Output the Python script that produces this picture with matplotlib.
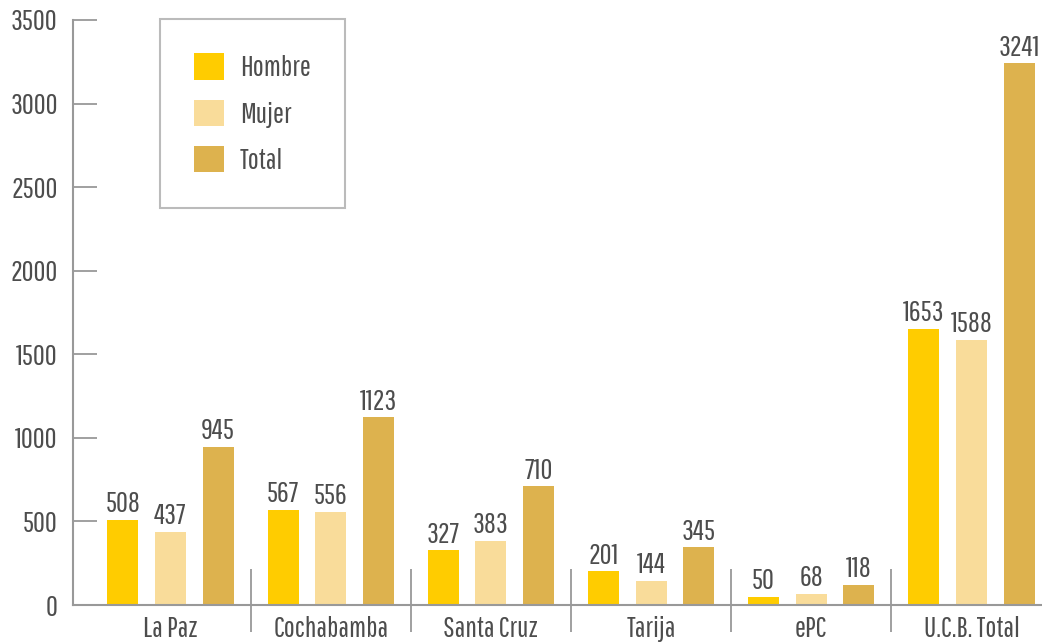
import matplotlib
matplotlib.use("Agg")
import matplotlib.pyplot as plt
from matplotlib.patches import Patch
import numpy as np

categories = ["La Paz", "Cochabamba", "Santa Cruz", "Tarija", "ePC", "U.C.B. Total"]
hombre = [508, 567, 327, 201, 50, 1653]
mujer = [437, 556, 383, 144, 68, 1588]
total = [945, 1123, 710, 345, 118, 3241]
series_names = ["Hombre", "Mujer", "Total"]
yticks = [0, 500, 1000, 1500, 2000, 2500, 3000, 3500]

colors = ["#FFCC00", "#F9DC9A", "#DDB24E"]
text_color = "#4d4d4d"
axis_color = "#999999"

plt.rcParams["font.family"] = ["Pathway Gothic One", "DejaVu Sans"]
FS = 21

W, H = 1042, 644
fig = plt.figure(figsize=(W / 100, H / 100), dpi=100)
left_px, right_px, top_px, bottom_px = 73, 1042, 20, 605
ax = fig.add_axes([left_px / W, 1 - bottom_px / H, (right_px - left_px) / W, (bottom_px - top_px) / H])

x = np.arange(len(categories))
offset = 0.297
width = 0.194
for i, (vals, c, name) in enumerate(zip([hombre, mujer, total], colors, series_names)):
    xs = x + (i - 1) * offset
    ax.bar(xs, vals, width=width, color=c, label=name, linewidth=0)
    for xi, v in zip(xs, vals):
        ax.annotate(str(v), (xi, v), xytext=(0, 2), textcoords="offset points",
                    ha="center", va="bottom", fontsize=FS, color=text_color)

ax.set_xlim((left_px - 170.5) / 160.2, (right_px - 170.5) / 160.2)
ax.set_ylim(0, 3500)
ax.set_yticks(yticks)
ax.set_yticklabels([str(t) for t in yticks])
ax.set_xticks(x)
ax.set_xticklabels(categories)

for s in ["top", "right"]:
    ax.spines[s].set_visible(False)
for s in ["left", "bottom"]:
    ax.spines[s].set_color(axis_color)
    ax.spines[s].set_linewidth(1.5)

ax.tick_params(axis="y", direction="in", length=17, width=1.3, color=axis_color,
               pad=11, labelsize=FS, labelcolor=text_color)
ax.tick_params(axis="x", length=0, pad=8, labelsize=FS, labelcolor=text_color)

# group separators
per_px = 3500 / (bottom_px - top_px)
for i in range(len(categories) - 1):
    ax.plot([i + 0.5, i + 0.5], [-27 * per_px, 36 * per_px], color=axis_color,
            linewidth=1.3, clip_on=False, solid_capstyle="butt")

handles = [Patch(facecolor=c, edgecolor="none", label=n) for c, n in zip(colors, series_names)]
leg = ax.legend(handles=handles, loc="upper left",
                bbox_to_anchor=(160 / W, 1 - 19 / H), bbox_transform=fig.transFigure,
                fontsize=FS, frameon=True, fancybox=False, borderpad=1.18,
                handlelength=1.0, handleheight=1.0, handletextpad=0.55,
                labelspacing=0.62, borderaxespad=0)
leg.get_frame().set_edgecolor("#aaaaaa")
leg.get_frame().set_linewidth(1.5)
for t in leg.get_texts():
    t.set_color(text_color)

fig.savefig("out.png", dpi=100)
